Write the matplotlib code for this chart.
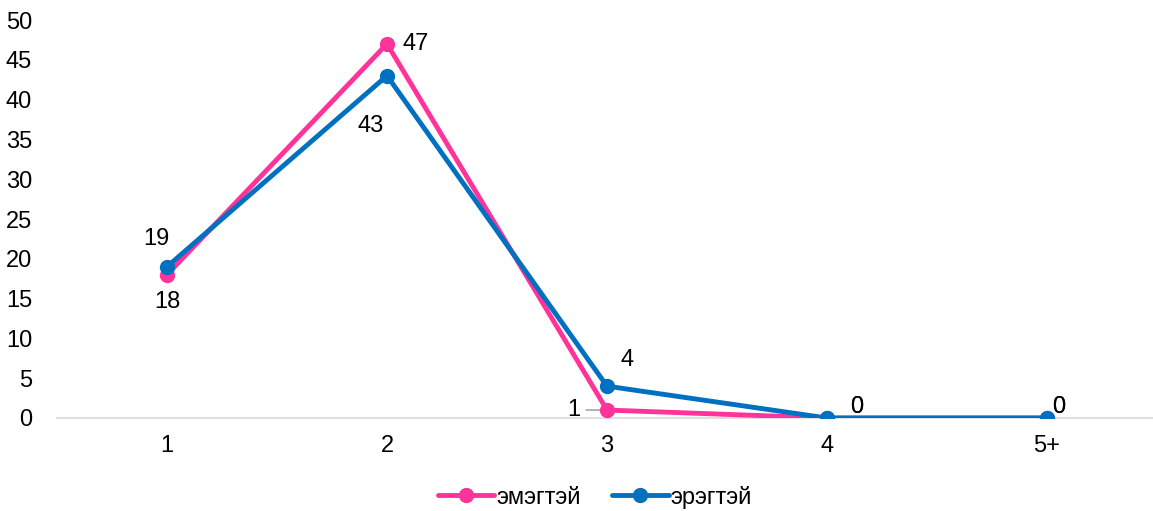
import matplotlib
matplotlib.use("Agg")
import matplotlib.pyplot as plt

plt.rcParams['font.family'] = ['Liberation Sans', 'DejaVu Sans']

categories = ["1", "2", "3", "4", "5+"]
female = [18, 47, 1, 0, 0]
male = [19, 43, 4, 0, 0]
series_names = ["эмэгтэй", "эрэгтэй"]
yticks = [0, 5, 10, 15, 20, 25, 30, 35, 40, 45, 50]

pink = "#FF3399"
blue = "#0070C0"

W, H = 1153, 511
fig = plt.figure(figsize=(W / 100, H / 100), dpi=100)
ax = fig.add_axes([57 / W, 1 - 418 / H, (W - 57) / W, (418 - 20) / H])

x = list(range(len(categories)))
ax.plot(x, female, color=pink, lw=3.5, marker="o", ms=10, label=series_names[0], zorder=3,
        solid_capstyle="round")
ax.plot(x, male, color=blue, lw=3.5, marker="o", ms=10, label=series_names[1], zorder=4,
        solid_capstyle="round")

ax.set_xlim(-0.5, 4 + (W - 1047) / 220)
ax.set_ylim(0, 50)
ax.set_yticks(yticks)
ax.set_xticks(x)
ax.set_xticklabels(categories)
for s in ["top", "right", "left"]:
    ax.spines[s].set_visible(False)
ax.spines["bottom"].set_color("#D9D9D9")
ax.spines["bottom"].set_linewidth(1.2)
fs = 17
ax.tick_params(axis="both", length=0, labelsize=fs, colors="#000000")
ax.tick_params(axis="y", pad=18)
ax.tick_params(axis="x", pad=12)

# label offsets in points
f_off = [(0, -20, "center"), (11, 0, "left"), (-24, 0, "center"), (17, 8, "left"), (4, 8, "left")]
m_off = [(-8, 20, "center"), (-12, -36, "center"), (10, 19, "left"), (17, 8, "left"), (4, 8, "left")]
for i, v in enumerate(female):
    dx, dy, ha = f_off[i]
    ax.annotate(str(v), (i, v), xytext=(dx, dy), textcoords="offset points",
                ha=ha, va="center", fontsize=fs, zorder=6)
for i, v in enumerate(male):
    dx, dy, ha = m_off[i]
    ax.annotate(str(v), (i, v), xytext=(dx, dy), textcoords="offset points",
                ha=ha, va="center", fontsize=fs, zorder=6)
# leader line for the "1" label
ax.annotate("", (2, female[2]), xytext=(-15, 0), textcoords="offset points",
            arrowprops=dict(arrowstyle="-", color="#A6A6A6", lw=1.2, shrinkA=0, shrinkB=0), zorder=2)

leg = fig.legend(loc="center", bbox_to_anchor=(0.516, 1 - 497 / H), ncol=2, frameon=False,
                 fontsize=fs, handlelength=2.4, columnspacing=1.3, handletextpad=0.1)

fig.savefig("out.png", dpi=100)
